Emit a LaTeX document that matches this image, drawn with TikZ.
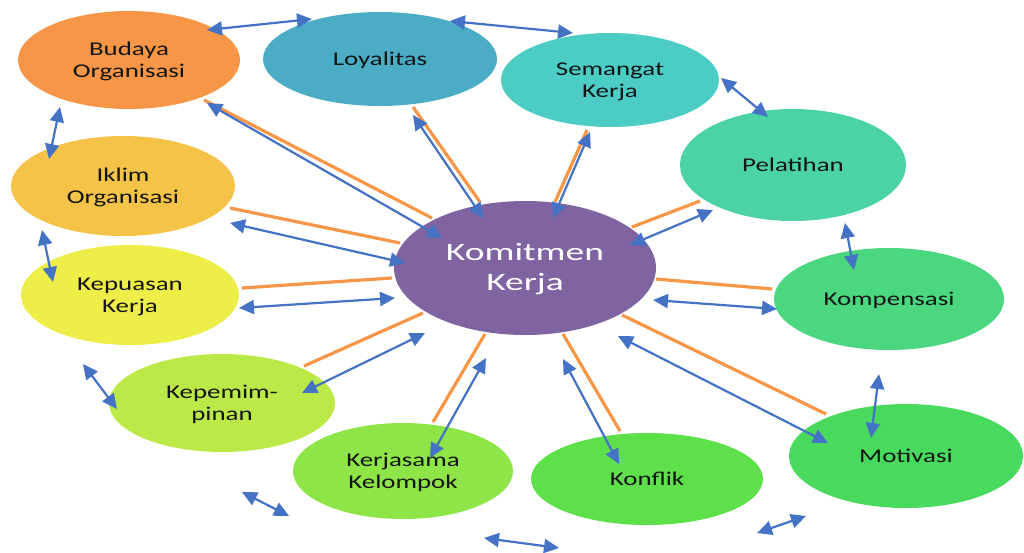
\documentclass[tikz,border=0pt]{standalone}
\usepackage{fontspec}
\setmainfont{Carlito}
\usetikzlibrary{shapes.geometric,arrows.meta}
\definecolor{cBud}{RGB}{247,150,70}
\definecolor{cLoy}{RGB}{75,172,198}
\definecolor{cSem}{RGB}{75,204,196}
\definecolor{cPel}{RGB}{75,211,164}
\definecolor{cKomp}{RGB}{75,215,128}
\definecolor{cMot}{RGB}{72,218,92}
\definecolor{cKonf}{RGB}{94,224,74}
\definecolor{cKerj}{RGB}{142,229,72}
\definecolor{cKep}{RGB}{187,234,72}
\definecolor{cKepu}{RGB}{238,238,72}
\definecolor{cIkl}{RGB}{244,195,72}
\definecolor{cKm}{RGB}{128,100,162}
\definecolor{cBlue}{RGB}{68,114,196}
\definecolor{cOr}{RGB}{247,150,70}
\definecolor{cTxt}{RGB}{20,20,20}
\newcommand\lbl[1]{\raisebox{-2pt}[\height][\depth]{\scalebox{1.38}[1]{\fontsize{19.5}{22}\selectfont\begin{tabular}{@{}c@{}}#1\end{tabular}}}}
\newcommand\biglbl[1]{\raisebox{-1pt}[\height][\depth]{\scalebox{1.5}[1]{\fontsize{25}{30}\selectfont\begin{tabular}{@{}c@{}}#1\end{tabular}}}}
\tikzset{
  bubble/.style={ellipse, inner sep=0pt, text=cTxt},
  oline/.style={draw=cOr, line width=3.2pt},
  barrow/.style={draw=cBlue, line width=2.2pt, {Triangle[length=15pt,width=14pt]}-{Triangle[length=15pt,width=14pt]}}
}
\begin{document}
\begin{tikzpicture}[x=1pt,y=-1pt]
\useasboundingbox (0,0) rectangle (1024,552);
\fill[white] (0,0) rectangle (1024,552);
% bubbles
\node[bubble, fill=cBud, minimum width=222pt, minimum height=98pt] (bud) at (129,60) {\lbl{Budaya\\Organisasi}};
\node[bubble, fill=cLoy, minimum width=234pt, minimum height=94pt] (loy) at (380,59) {\lbl{Loyalitas}};
\node[bubble, fill=cSem, minimum width=218pt, minimum height=94pt] (sem) at (610,80) {\lbl{Semangat\\Kerja}};
\node[bubble, fill=cPel, minimum width=226pt, minimum height=112pt] (pel) at (793,165) {\lbl{Pelatihan}};
\node[bubble, fill=cKomp, minimum width=230pt, minimum height=102pt] (komp) at (889,299) {\lbl{Kompensasi}};
\node[bubble, fill=cMot, minimum width=234pt, minimum height=104pt] (mot) at (906,456) {\lbl{Motivasi}};
\node[bubble, fill=cKonf, minimum width=232pt, minimum height=92pt] (konf) at (647,479) {\lbl{Konflik}};
\node[bubble, fill=cKerj, minimum width=220pt, minimum height=96pt] (kerj) at (403,471) {\lbl{Kerjasama\\Kelompok}};
\node[bubble, fill=cKep, minimum width=226pt, minimum height=98pt] (kep) at (222,403) {\lbl{Kepemim-\\pinan}};
\node[bubble, fill=cKepu, minimum width=218pt, minimum height=100pt] (kepu) at (130,295) {\lbl{Kepuasan\\Kerja}};
\node[bubble, fill=cIkl, minimum width=224pt, minimum height=100pt] (ikl) at (123,186) {\lbl{Iklim\\Organisasi}};
\node[bubble, fill=cKm, minimum width=262pt, minimum height=134pt, text=white] (km) at (525,268) {\biglbl{Komitmen\\Kerja}};
% orange line end points
\coordinate (o1a) at (204,100); \coordinate (o1b) at (432,218);
\coordinate (o2a) at (413,107); \coordinate (o2b) at (480,202);
\coordinate (o3a) at (587,130); \coordinate (o3b) at (555,202);
\coordinate (o4a) at (700,201); \coordinate (o4b) at (632,227);
\coordinate (o5a) at (230,208); \coordinate (o5b) at (400,243);
\coordinate (o6a) at (242,288); \coordinate (o6b) at (392,278);
\coordinate (o7a) at (304,366); \coordinate (o7b) at (423,313);
\coordinate (o8a) at (433,422); \coordinate (o8b) at (485,334);
\coordinate (o9a) at (563,334); \coordinate (o9b) at (620,431);
\coordinate (o10a) at (622,315); \coordinate (o10b) at (826,414);
\coordinate (o11a) at (656,279); \coordinate (o11b) at (772,289);
\foreach \i in {1,...,11} {\draw[oline] (o\i a) -- (o\i b);}
% blue radial arrows
\coordinate (b1a) at (207,103); \coordinate (b1b) at (442,238);
\coordinate (b2a) at (413,115); \coordinate (b2b) at (483,218);
\coordinate (b3a) at (590,132); \coordinate (b3b) at (553,218);
\coordinate (b4a) at (713,210); \coordinate (b4b) at (630,245);
\coordinate (b5a) at (230,223); \coordinate (b5b) at (405,263);
\coordinate (b6a) at (239,308); \coordinate (b6b) at (395,298);
\coordinate (b7a) at (302,393); \coordinate (b7b) at (425,333);
\coordinate (b8a) at (430,458); \coordinate (b8b) at (486,358);
\coordinate (b9a) at (563,359); \coordinate (b9b) at (619,464);
\coordinate (b10a) at (618,336); \coordinate (b10b) at (828,443);
\coordinate (b11a) at (653,300); \coordinate (b11b) at (777,309);
% blue peripheral arrows
\coordinate (p1a) at (207,30); \coordinate (p1b) at (312,19);
\coordinate (p2a) at (450,21); \coordinate (p2b) at (573,33);
\coordinate (p3a) at (721,78); \coordinate (p3b) at (768,117);
\coordinate (p4a) at (845,223); \coordinate (p4b) at (854,270);
\coordinate (p5a) at (879,374); \coordinate (p5b) at (871,438);
\coordinate (p6a) at (806,516); \coordinate (p6b) at (757,533);
\coordinate (p7a) at (484,538); \coordinate (p7b) at (559,548);
\coordinate (p8a) at (242,492); \coordinate (p8b) at (289,516);
\coordinate (p9a) at (83,364); \coordinate (p9b) at (117,409);
\coordinate (p10a) at (42,230); \coordinate (p10b) at (53,282);
\coordinate (p11a) at (60,107); \coordinate (p11b) at (49,159);
\foreach \i in {1,...,11} {\draw[barrow] (b\i a) -- (b\i b); \draw[barrow] (p\i a) -- (p\i b);}
\end{tikzpicture}
\end{document}
